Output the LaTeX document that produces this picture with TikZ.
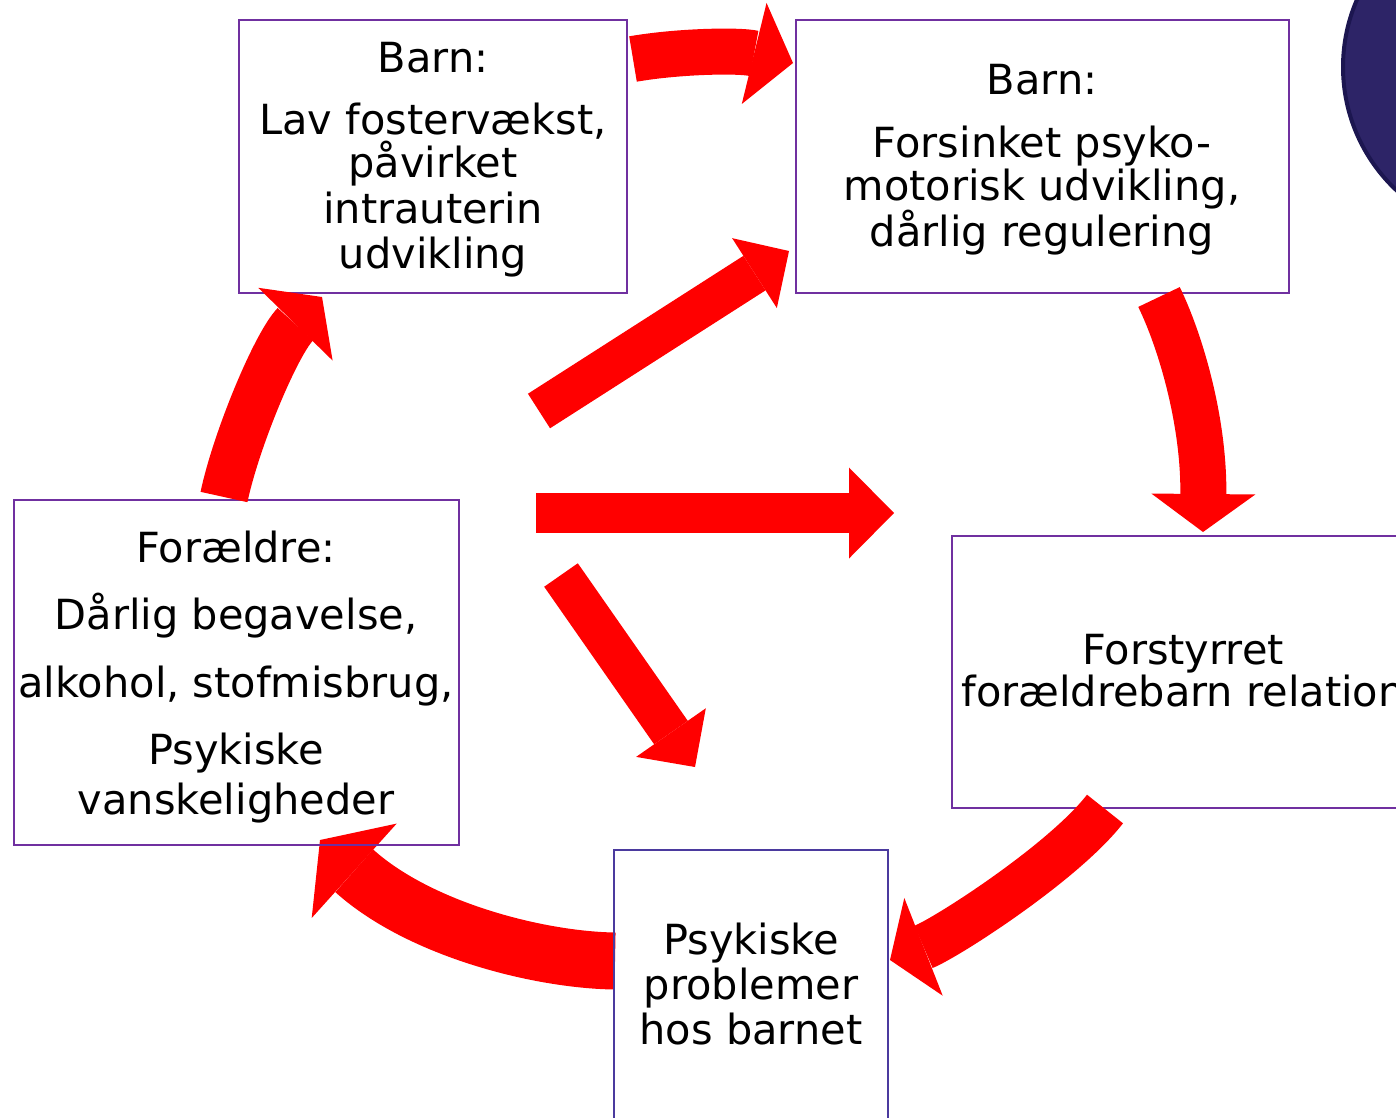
\documentclass[tikz,border=0pt]{standalone}
\usepackage{fontspec}
\setmainfont{DejaVu Sans}
\usetikzlibrary{arrows.meta}
\definecolor{boxpurple}{HTML}{7030A0}
\definecolor{boxblue}{HTML}{4B3A9E}
\definecolor{circfill}{HTML}{2D2467}
\definecolor{circedge}{HTML}{1C1650}
\begin{document}
\begin{tikzpicture}[x=1pt,y=-1pt,
  box/.style={draw=boxpurple, line width=2pt, inner sep=0pt, rectangle},
  txt/.style={font=\fontsize{41.5}{46}\selectfont, anchor=base, inner sep=0pt},
  blockarrow/.style n args={3}{draw=red, line width=#1, line cap=butt,
    -{Triangle[line width=0pt 0 0, length=#2 0 0, width=#3 0 0]}}]
\useasboundingbox (0,0) rectangle (1396,1117);

% decorative circle (partly outside)
\node[circle, fill=circfill, draw=circedge, line width=4pt, minimum size=338pt, inner sep=0pt] (circ) at (1512,67) {};

% arrow under boxes
\coordinate (s5) at (615,961);
\coordinate (e5) at (320,840);
\draw[blockarrow={57pt}{46pt}{127pt}] (s5) .. controls (540,960) and (420,930) .. (e5);

% boxes
\node[box, minimum width=388pt, minimum height=273pt] (A) at (433,156.5) {};
\node[box, minimum width=493pt, minimum height=273pt] (B) at (1042.5,156.5) {};
\node[box, minimum width=462pt, minimum height=272pt] (C) at (1183,672) {};
\node[box, draw=boxblue, minimum width=274pt, minimum height=280pt] (D) at (751,990) {};
\node[box, minimum width=445pt, minimum height=345pt] (E) at (236.5,672.5) {};

% texts
\node[txt] (tA1) at (433,72) {Barn:};
\node[txt] (tA2) at (433,134) {Lav fostervækst,};
\node[txt] (tA3) at (433,177) {påvirket};
\node[txt] (tA4) at (433,223) {intrauterin};
\node[txt] (tA5) at (433,268) {udvikling};

\node[txt] (tB1) at (1042,94) {Barn:};
\node[txt] (tB2) at (1042,157) {Forsinket psyko-};
\node[txt] (tB3) at (1042,200) {motorisk udvikling,};
\node[txt] (tB4) at (1042,246) {dårlig regulering};

\node[txt] (tC1) at (1183,664) {Forstyrret};
\node[txt] (tC2) at (1183,706) {forældrebarn relation};

\node[txt] (tD1) at (751,954) {Psykiske};
\node[txt] (tD2) at (751,999) {problemer};
\node[txt] (tD3) at (751,1044) {hos barnet};

\node[txt] (tE1) at (236,562) {Forældre:};
\node[txt] (tE2) at (236,629) {Dårlig begavelse,};
\node[txt] (tE3) at (236,697) {alkohol, stofmisbrug,};
\node[txt] (tE4) at (236,764) {Psykiske};
\node[txt] (tE5) at (236,814) {vanskeligheder};

% arrows
\coordinate (s1) at (633,59);  \coordinate (e1) at (793,63);
\coordinate (s2) at (224,497); \coordinate (e2) at (322,297);
\coordinate (s3) at (1159,297);\coordinate (e3) at (1203,532);
\coordinate (s4) at (1105,809);\coordinate (e4) at (890,960);
\coordinate (s6) at (539,411); \coordinate (e6) at (789,251);
\coordinate (s7) at (536,513); \coordinate (e7) at (894,513);
\coordinate (s8) at (561,575); \coordinate (e8) at (695,767);

\draw[blockarrow={46pt}{40pt}{104pt}] (s1) .. controls (679,51) and (740,50) .. (e1);
\draw[blockarrow={48pt}{38pt}{104pt}] (s2) .. controls (236,440) and (276,344) .. (e2);
\draw[blockarrow={46pt}{38pt}{104pt}] (s3) .. controls (1180,340) and (1204,420) .. (e3);
\draw[blockarrow={46pt}{36pt}{105pt}] (s4) .. controls (1063,863) and (946,938) .. (e4);
\draw[blockarrow={41pt}{41pt}{83pt}] (s6) -- (e6);
\draw[blockarrow={40pt}{45pt}{91pt}] (s7) -- (e7);
\draw[blockarrow={41pt}{42pt}{85pt}] (s8) -- (e8);
\end{tikzpicture}
\end{document}
